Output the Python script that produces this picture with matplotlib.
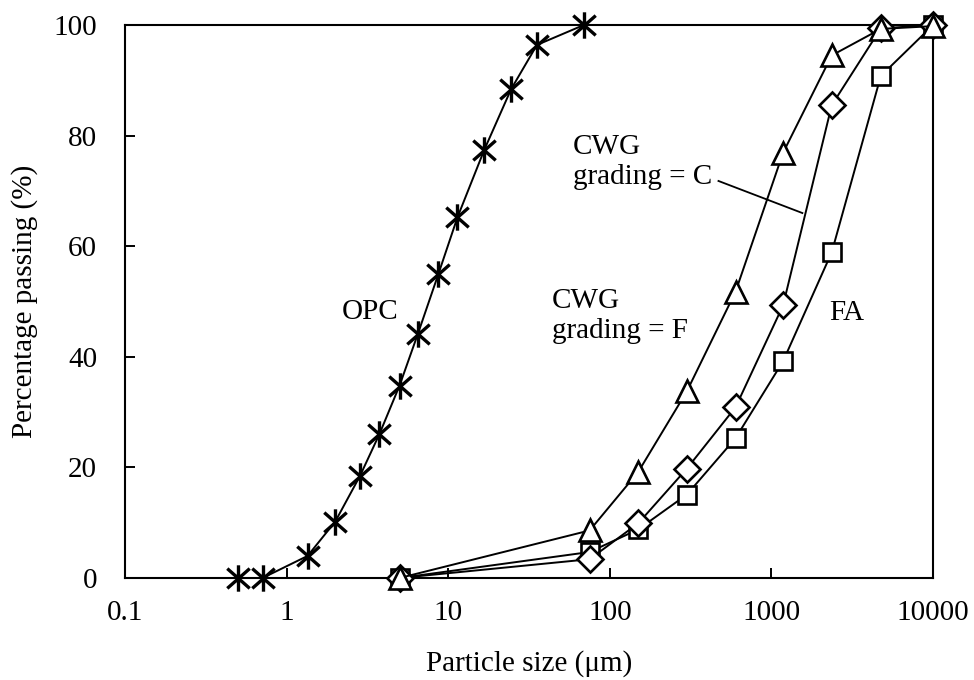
import numpy as np
import matplotlib
matplotlib.use("Agg")
import matplotlib.pyplot as plt
from matplotlib.path import Path

# ─── Data ───────────────────────────────────────
opc_size = [0.5, 0.71, 1.35, 2.0, 2.85, 3.75, 5.0, 6.5, 8.7, 11.4, 16.7, 24.5, 35.4, 69]
opc_pass = [0, 0, 4.0, 10.2, 18.5, 26.0, 34.8, 44.2, 55.0, 65.2, 77.4, 88.4, 96.4, 100]

sieve = [5, 75, 150, 300, 600, 1180, 2360, 4750, 10000]
fa_pass = [0, 4.7, 8.8, 15.1, 25.3, 39.2, 58.9, 90.8, 100]
cwg_f_pass = [0, 3.4, 9.9, 19.8, 30.9, 49.3, 85.5, 99.4, 100]
cwg_c_pass = [0, 8.6, 19.2, 33.8, 51.8, 76.9, 94.5, 99.3, 99.8]

plt.rcParams['font.family'] = ['Liberation Serif', 'DejaVu Serif']
plt.rcParams['font.size'] = 21

# asterisk: an X with a vertical bar through it
star = Path([(0, -1), (0, 1), (-0.85, -0.75), (0.85, 0.75), (-0.85, 0.75), (0.85, -0.75)],
            [Path.MOVETO, Path.LINETO, Path.MOVETO, Path.LINETO, Path.MOVETO, Path.LINETO])

fig = plt.figure(figsize=(9.74, 6.8), dpi=100)
ax = fig.add_axes([0.1283, 0.15, 0.958 - 0.1283, 0.9632 - 0.15])

lw = 1.4
mew = 1.9
ax.plot(opc_size, opc_pass, color='black', lw=lw, marker=star, ms=19,
        mew=2.4, mec='black', clip_on=False, zorder=3)
ax.plot(sieve, fa_pass, color='black', lw=lw, marker='s', ms=13.5,
        mfc='white', mec='black', mew=mew, clip_on=False, zorder=4)
ax.plot(sieve, cwg_f_pass, color='black', lw=lw, marker='D', ms=13,
        mfc='white', mec='black', mew=mew, clip_on=False, zorder=5)
ax.plot(sieve, cwg_c_pass, color='black', lw=lw, marker='^', ms=15.5,
        mfc='white', mec='black', mew=mew, clip_on=False, zorder=6)

# labels on the curves
ax.text(3.3, 48.1, 'OPC', ha='center', va='center')
ax.text(59, 75.2, 'CWG\ngrading = C', ha='left', va='center')
ax.text(43.8, 47.3, 'CWG\ngrading = F', ha='left', va='center')
ax.text(2900, 48.0, 'FA', ha='center', va='center')
ax.plot([470, 1553], [71.8, 66.0], color='black', lw=1.3)

ax.set_xscale('log')
ax.set_xlim(0.1, 10000)
ax.set_ylim(0, 100)
ax.set_xticks([0.1, 1, 10, 100, 1000, 10000])
ax.set_xticklabels(['0.1', '1', '10', '100', '1000', '10000'])
ax.xaxis.set_minor_locator(matplotlib.ticker.NullLocator())
ax.set_yticks([0, 20, 40, 60, 80, 100])

ax.tick_params(axis='both', direction='in', length=7, width=1.4)
ax.tick_params(axis='x', pad=16)
ax.tick_params(axis='y', pad=20)
for s in ax.spines.values():
    s.set_linewidth(1.5)

ax.set_xlabel('Particle size (μm)', labelpad=17)
ax.set_ylabel('Percentage passing (%)', labelpad=11)

fig.savefig('out.png', dpi=100)
